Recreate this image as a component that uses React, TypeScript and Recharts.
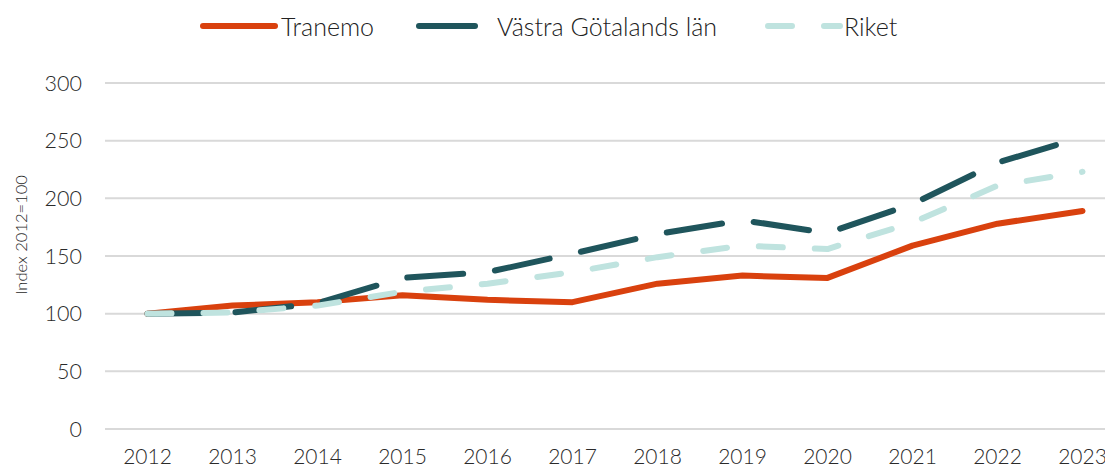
import React from 'react';
import { LineChart, Line, XAxis, YAxis, CartesianGrid } from 'recharts';

const years = ['2012', '2013', '2014', '2015', '2016', '2017', '2018', '2019', '2020', '2021', '2022', '2023'];
const tranemo = [100, 107, 110, 116, 112, 110, 126, 133, 131, 159, 178, 189];
const vastraGotaland = [100, 101, 109, 131, 136, 152, 169, 181, 170, 195, 231, 253];
const riket = [100, 101, 107, 119, 126, 136, 149, 159, 156, 179, 211, 223];
const yTicks = [0, 50, 100, 150, 200, 250, 300];

const seriesInfo = [
  { key: 'tranemo', name: 'Tranemo', color: '#D9410E', dash: undefined as string | undefined, iconLeft: 192, textLeft: 273 },
  { key: 'vgl', name: 'Västra Götalands län', color: '#1F555C', dash: '56 32', iconLeft: 408, textLeft: 489 },
  { key: 'riket', name: 'Riket', color: '#BFE3DF', dash: '24 32', iconLeft: 757, textLeft: 836 },
];

const data = years.map((y, i) => ({
  year: y,
  tranemo: tranemo[i],
  vgl: vastraGotaland[i],
  riket: riket[i],
}));

const FONT = 'Lato, "Open Sans", sans-serif';
const TEXT = '#2a2a2a';

export default function App() {
  return (
    <div style={{ width: 1105, height: 460, overflow: 'hidden', position: 'relative', fontFamily: FONT }}>
      <LineChart width={1117} height={460} data={data} margin={{ top: 75, right: 0, bottom: 0, left: 0 }}>
        <CartesianGrid vertical={false} stroke="#D9D9D9" strokeWidth={2} />
        <XAxis
          dataKey="year"
          height={39}
          padding={{ left: 42.5, right: 42.5 }}
          axisLine={false}
          tickLine={false}
          tickSize={0}
          tickMargin={20}
          interval={0}
          tick={{ fontSize: 21, fill: TEXT, fontFamily: FONT, fontWeight: 300 }}
        />
        <YAxis
          width={97}
          domain={[0, 300]}
          ticks={yTicks}
          axisLine={false}
          tickLine={false}
          tickSize={0}
          tickMargin={23}
          tick={{ fontSize: 21.5, fill: TEXT, fontFamily: FONT, fontWeight: 300 }}
          label={{
            content: () => (
              <text
                x={13}
                y={227}
                transform="rotate(-90, 13, 227)"
                textAnchor="middle"
                dominantBaseline="central"
                fontSize={16.5}
                fill={TEXT}
                fontFamily={FONT}
                fontWeight={300}
              >
                Index 2012=100
              </text>
            ),
          }}
        />
        {seriesInfo.map((s) => (
          <Line
            key={s.key}
            type="linear"
            dataKey={s.key}
            name={s.name}
            stroke={s.color}
            strokeWidth={6}
            strokeDasharray={s.dash}
            strokeLinecap="round"
            strokeLinejoin="round"
            dot={false}
            activeDot={false}
            isAnimationActive={false}
          />
        ))}
      </LineChart>
      {seriesInfo.map((s) => (
        <React.Fragment key={s.key + '-legend'}>
          <svg
            width={80}
            height={12}
            style={{ position: 'absolute', left: s.iconLeft, top: 12 }}
          >
            <line
              x1={3}
              y1={6}
              x2={75}
              y2={6}
              stroke={s.color}
              strokeWidth={6}
              strokeLinecap="round"
              strokeDasharray={s.dash}
            />
          </svg>
          <div
            style={{
              position: 'absolute',
              left: s.textLeft,
              top: 1,
              height: 34,
              lineHeight: '34px',
              fontSize: 25,
              color: '#222222',
              fontWeight: 300,
              whiteSpace: 'nowrap',
            }}
          >
            {s.name}
          </div>
        </React.Fragment>
      ))}
    </div>
  );
}
